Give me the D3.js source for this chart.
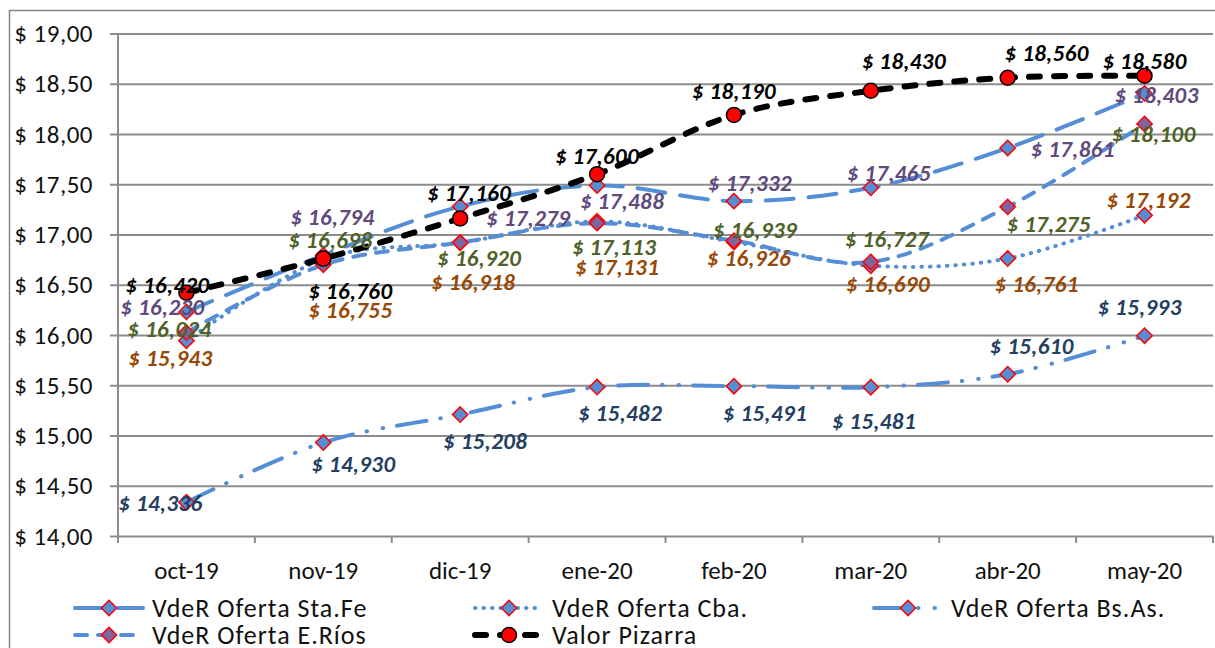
<!DOCTYPE html>
<html>
<head>
<meta charset="utf-8">
<script src="https://cdn.jsdelivr.net/npm/d3@7"></script>
<style>
  body { margin: 0; background: #fff; }
  svg { display: block; font-family: Carlito, Lato, sans-serif; }
</style>
</head>
<body>
<script>
// Data
var categories = ["oct-19", "nov-19", "dic-19", "ene-20", "feb-20", "mar-20", "abr-20", "may-20"];
var staFe   = [16.230, 16.794, 17.279, 17.488, 17.332, 17.465, 17.861, 18.403];
var cba     = [15.943, 16.755, 16.918, 17.131, 16.926, 16.690, 16.761, 17.192];
var bsAs    = [14.336, 14.930, 15.208, 15.482, 15.491, 15.481, 15.610, 15.993];
var eRios   = [16.024, 16.698, 16.920, 17.113, 16.939, 16.727, 17.275, 18.100];
var pizarra = [16.420, 16.760, 17.160, 17.600, 18.190, 18.430, 18.560, 18.580];
var yTicks  = [14, 14.5, 15, 15.5, 16, 16.5, 17, 17.5, 18, 18.5, 19];

// label nudges (px from the point)
var nudgeStaFe   = [[-24,-5],[9,-38],[68,12],[25,16],[16,-18],[18,-15],[65,1],[12,2]];
var nudgeCba     = [[-16,17],[27,51],[13,39],[20,46],[15,16],[17,18],[29,25],[4,-15]];
var nudgeBsAs    = [[-26,1],[30,21],[25,26],[23,26],[31,27],[3,34],[24,-28],[-5,-29]];
var nudgeERios   = [[-17,-4],[7,-25],[19,15],[17,24],[21,-11],[16,-23],[41,17],[9,10]];
var nudgePizarra = [[-19,-8],[27,32],[9,-25],[0,-18],[0,-24],[33,-30],[39,-25],[0,-15]];

var WIDTH = 1215, HEIGHT = 648;
var plotLeft = 118, plotRight = 1213, plotTop = 33.5, plotBottom = 536;
var blue = "#558ed5";

var svg = d3.select("body").append("svg").attr("width", WIDTH).attr("height", HEIGHT);

// outer border
svg.append("rect").attr("x", 9.5).attr("y", 10.5).attr("width", WIDTH).attr("height", HEIGHT)
    .attr("fill", "none").attr("stroke", "#868686").attr("stroke-width", 1.5);

var x = d3.scaleBand().domain(categories).range([plotLeft, plotRight]);
var y = d3.scaleLinear().domain([14, 19]).range([plotBottom, plotTop]);
var cx = function(i) { return x(categories[i]) + x.bandwidth() / 2; };

// y axis + gridlines
var yAxis = svg.append("g").attr("transform", "translate(110,0)")
    .call(d3.axisLeft(y).tickValues(yTicks).tickSize(-(plotRight - 110)).tickPadding(17)
        .tickFormat(function(d) { return "$ " + d.toFixed(2).replace(".", ","); }));
yAxis.attr("font-family", null);
yAxis.select(".domain").remove();
yAxis.selectAll("line").attr("stroke", "#8c8c8c").attr("stroke-width", 2);
yAxis.selectAll("text").attr("font-size", "25px").attr("fill", "#111").attr("letter-spacing", "0.5px");

// left axis line
svg.append("line").attr("x1", plotLeft).attr("x2", plotLeft).attr("y1", plotTop).attr("y2", plotBottom + 7)
    .attr("stroke", "#8c8c8c").attr("stroke-width", 2);

// x axis
var xAxis = svg.append("g").attr("transform", "translate(0," + plotBottom + ")")
    .call(d3.axisBottom(x).tickSize(0));
xAxis.attr("font-family", null);
xAxis.select(".domain").remove();
xAxis.selectAll("text").attr("font-size", "25px").attr("fill", "#111")
    .attr("y", 35).attr("dy", "0.33em");
var bounds = categories.map(function(c) { return x(c); }).concat([plotRight]);
svg.selectAll(".xtick").data(bounds).enter().append("line")
    .attr("x1", function(d) { return d; }).attr("x2", function(d) { return d; })
    .attr("y1", plotBottom).attr("y2", plotBottom + 7)
    .attr("stroke", "#8c8c8c").attr("stroke-width", 2);

// series
var series = [
    { name: "VdeR Oferta Sta.Fe", values: staFe, nudge: nudgeStaFe, dash: "28,15", width: 4, cap: "round",
      color: blue, marker: "diamond", mfill: blue, label: "#604a7b" },
    { name: "VdeR Oferta Cba.", values: cba, nudge: nudgeCba, dash: "0.5,8", width: 4, cap: "round",
      color: blue, marker: "diamond", mfill: blue, label: "#984807" },
    { name: "VdeR Oferta Bs.As.", values: bsAs, nudge: nudgeBsAs, dash: "30,14,0.5,16,0.5,14", width: 4, cap: "round",
      color: blue, marker: "diamond", mfill: blue, label: "#253f62" },
    { name: "VdeR Oferta E.Ríos", values: eRios, nudge: nudgeERios, dash: "12,11", width: 4, cap: "round",
      color: blue, marker: "diamond", mfill: "#8064a2", label: "#4f6228" },
    { name: "Valor Pizarra", values: pizarra, nudge: nudgePizarra, dash: "11,14", width: 6, cap: "round",
      color: "#000", marker: "circle", mfill: "#ff0000", label: "#000" }
];

var line = d3.line()
    .x(function(d, i) { return cx(i); })
    .y(function(d) { return y(d); })
    .curve(d3.curveCardinal.tension(0));

var diamond = d3.symbol().type(d3.symbolDiamond2).size(150);

function drawMarker(g, s, px, py) {
    if (s.marker == "circle") {
        g.append("circle").attr("cx", px).attr("cy", py).attr("r", 7.5)
            .attr("fill", s.mfill).attr("stroke", "#000").attr("stroke-width", 1.5);
    } else {
        g.append("path").attr("d", diamond).attr("transform", "translate(" + px + "," + py + ")")
            .attr("fill", s.mfill).attr("stroke", "#ff0000").attr("stroke-width", 1.5);
    }
}

series.forEach(function(s) {
    svg.append("path").datum(s.values).attr("d", line)
        .attr("fill", "none").attr("stroke", s.color).attr("stroke-width", s.width)
        .attr("stroke-dasharray", s.dash).attr("stroke-linecap", s.cap);
    var g = svg.append("g");
    s.values.forEach(function(v, i) { drawMarker(g, s, cx(i), y(v)); });
});

// data labels
series.forEach(function(s) {
    svg.append("g").selectAll("text").data(s.values).enter().append("text")
        .attr("x", function(d, i) { return cx(i) + s.nudge[i][0]; })
        .attr("y", function(d, i) { return y(d) + s.nudge[i][1]; })
        .attr("text-anchor", "middle").attr("dominant-baseline", "central")
        .attr("font-size", "23px").attr("font-weight", "bold").attr("font-style", "italic")
        .attr("letter-spacing", "0.4px")
        .attr("fill", s.label)
        .text(function(d) { return "$ " + d3.format(",.3f")(d).replace(".", ","); });
});

// legend
var legendPos = [[75, 608], [475, 608], [874, 608], [75, 635], [475, 635]];
series.forEach(function(s, i) {
    var lx = legendPos[i][0], ly = legendPos[i][1];
    var g = svg.append("g");
    g.append("line").attr("x1", lx).attr("x2", lx + 68).attr("y1", ly).attr("y2", ly)
        .attr("stroke", s.color).attr("stroke-width", s.width)
        .attr("stroke-dasharray", s.dash).attr("stroke-linecap", s.cap);
    drawMarker(g, s, lx + 34, ly);
    g.append("text").attr("x", lx + 77).attr("y", ly).attr("dominant-baseline", "central")
        .attr("font-size", "26px").attr("letter-spacing", "1px").attr("fill", "#111").text(s.name);
});
</script>
</body>
</html>
